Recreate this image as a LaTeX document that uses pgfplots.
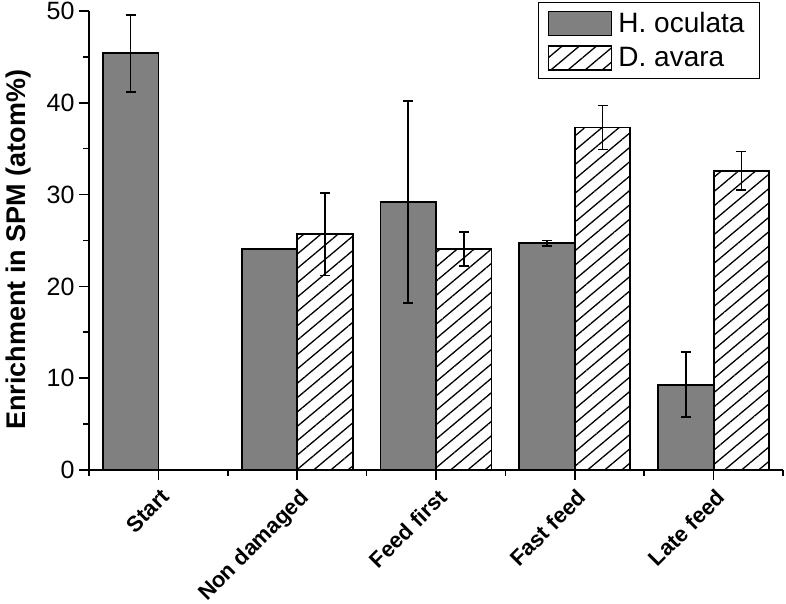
\documentclass[border=0pt]{standalone}
\usepackage{pgfplots}
\pgfplotsset{compat=1.18}
\usepackage{fontspec}
\setmainfont{Liberation Sans}
\usetikzlibrary{patterns.meta}
\definecolor{hgray}{HTML}{808080}
\begin{document}
\begin{tikzpicture}
\useasboundingbox (0,0) rectangle (786pt,604pt);
\begin{axis}[
  at={(89pt,134pt)}, anchor=south west,
  scale only axis, width=694pt, height=459pt,
  xmin=-0.5, xmax=4.5, ymin=0, ymax=50,
  axis x line*=bottom, axis y line*=left,
  axis line style={line width=1.7pt, -},
  xtick={0,1,2,3,4},
  xticklabels={Start, Non damaged, Feed first, Fast feed, Late feed},
  minor xtick={-0.5,0.5,1.5,2.5,3.5,4.5},
  ytick={0,10,20,30,40,50},
  minor ytick={5,15,25,35,45},
  tick align=outside,
  major tick length=10pt, minor tick length=6pt,
  every tick/.style={line width=1.6pt, black},
  /pgf/number format/assume math mode=true,
  yticklabel style={font=\fontsize{25}{28}\selectfont, xshift=-1pt},
  xticklabel style={rotate=45, anchor=north east, font=\bfseries\fontsize{22}{26}\selectfont, xshift=-1pt, yshift=-3pt},
  ylabel={\bfseries Enrichment in SPM (atom\%)},
  ylabel style={font=\fontsize{27}{32}\selectfont, at={(axis description cs:-0.078,0.48)}, anchor=south},
  ybar, bar width=0.4,
  legend style={at={(rel axis cs:0.967,1.02)}, anchor=north east, draw=black, line width=1.2pt,
    font=\fontsize{28}{33}\selectfont, inner xsep=9pt, inner ysep=8pt, row sep=9pt,
    nodes={inner xsep=6pt}},
  legend cell align=left,
  legend image code/.code={\draw[#1, line width=1.6pt] (0pt,-12pt) rectangle (63pt,12pt);},
  error bars/error bar style={line width=1.7pt, black},
  error bars/error mark options={rotate=90, mark size=5pt, line width=1.7pt, black},
]
\addplot[fill=hgray, draw=black, line width=1.8pt, bar shift=-0.2,
  error bars/.cd, y dir=both, y explicit]
  coordinates {(0,45.4) +- (0,4.2) (1,24.1) +- (0,0) (2,29.2) +- (0,11.0) (3,24.7) +- (0,0.3) (4,9.3) +- (0,3.55)};
\addplot[pattern={Lines[angle=40,distance=11pt,line width=1.3pt]}, pattern color=black, draw=black, line width=1.8pt, bar shift=0.2,
  error bars/.cd, y dir=both, y explicit]
  coordinates {(1,25.7) +- (0,4.5) (2,24.1) +- (0,1.85) (3,37.3) +- (0,2.4) (4,32.6) +- (0,2.1)};
\legend{H. oculata, D. avara}
\end{axis}
\end{tikzpicture}
\end{document}
